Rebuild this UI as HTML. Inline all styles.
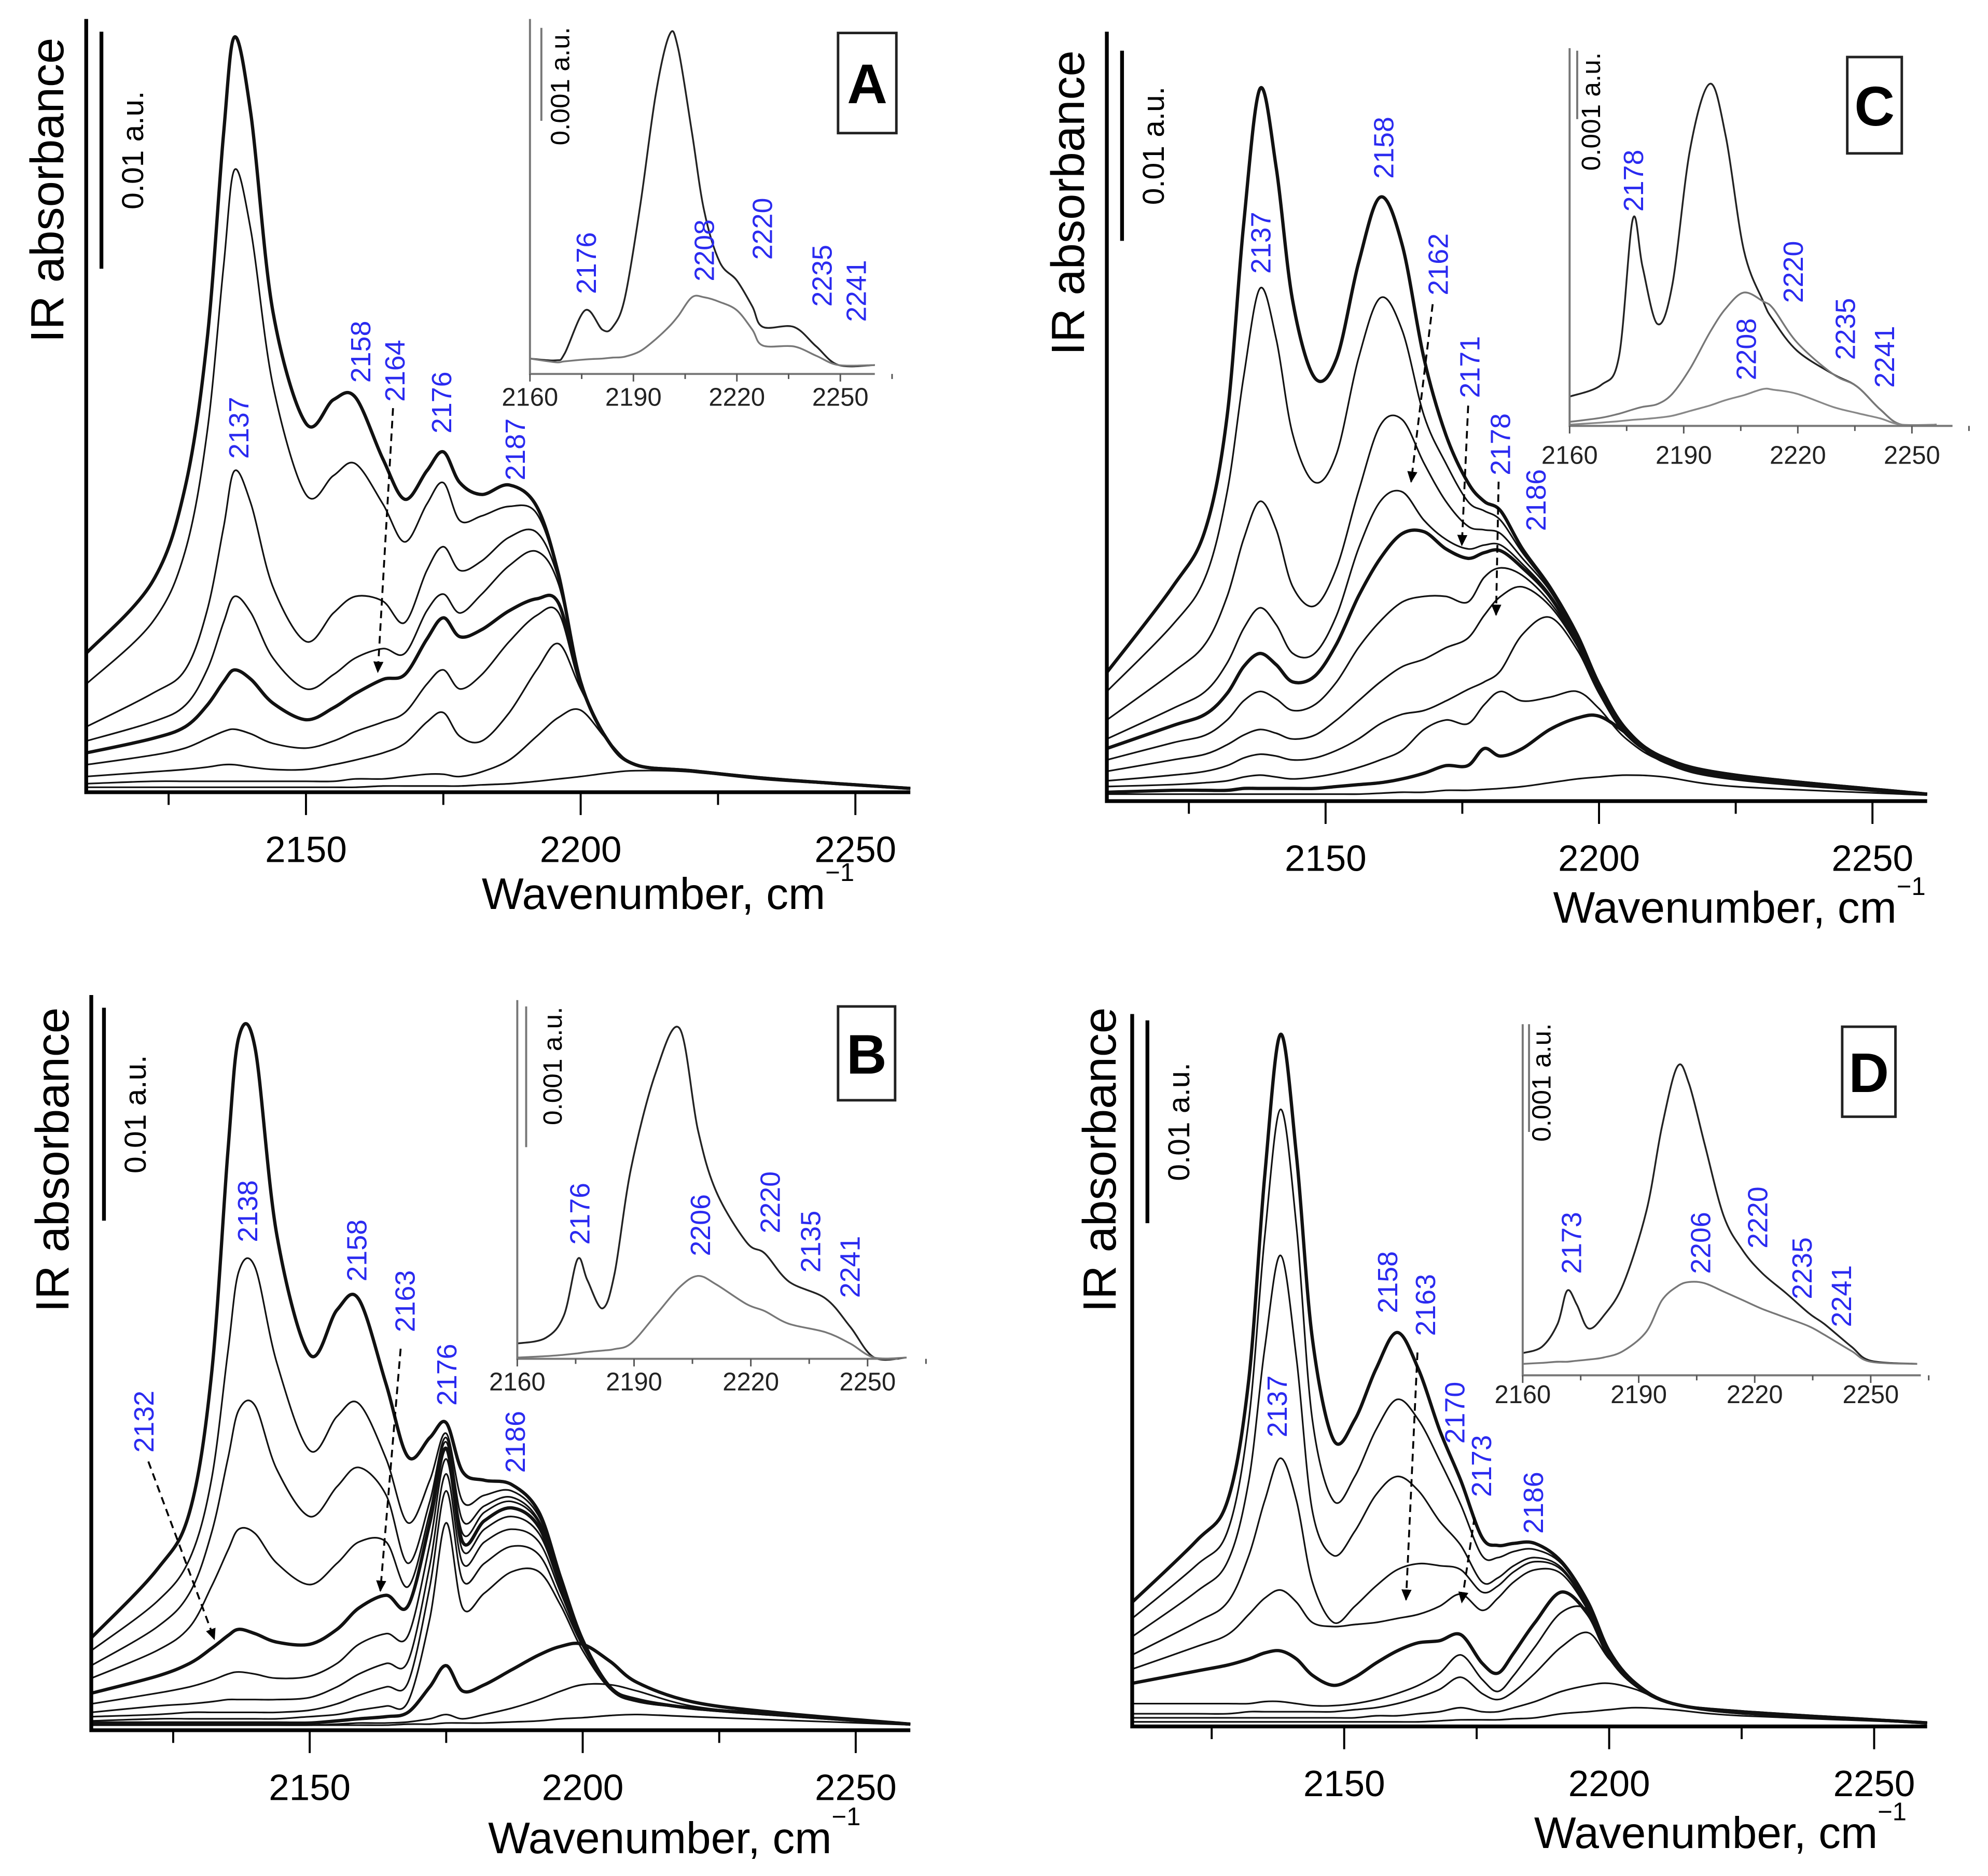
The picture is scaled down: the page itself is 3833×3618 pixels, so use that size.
<!DOCTYPE html>
<html><head><meta charset="utf-8">
<style>
html,body{margin:0;padding:0;background:#fff;}
svg{display:block;}
text{font-family:"Liberation Sans",Arial,sans-serif;}
</style></head>
<body>
<svg id="fig" width="3833" height="3618" viewBox="0 0 1568 1480" preserveAspectRatio="none" xmlns="http://www.w3.org/2000/svg">
<defs><marker id="ah" markerWidth="10" markerHeight="10" refX="8" refY="4" orient="auto" markerUnits="userSpaceOnUse"><path d="M0,0 L9,4 L0,8 Z" fill="#000"/></marker></defs>
</svg>
<script>
// ---------- main panel data (x: wavenumber cm-1, y: absorbance in 0.001 a.u.) ----------
const gridA = [2110,2122,2128,2132,2135,2137,2140,2144,2150,2155,2159,2164,2168,2172,2175,2178,2182,2187,2192,2196,2200,2205,2210,2220,2235,2260];
const curvesA = [
 [5.7,8.7,12.7,18.9,27.6,31.7,28.4,20.1,15.4,16.4,16.5,13.9,12.2,13.4,14.2,12.9,12.4,12.8,11.9,9,4.5,2,1.0,0.75,0.4,0],
 [4.4,7,10,15,22,26.1,23.5,17,12.4,13.2,13.7,12.0,10.4,12.0,12.9,11.3,11.5,11.9,11.6,8.9,4.5,2,1.0,0.75,0.4,0],
 [2.6,4,5,7.5,11,13.4,12,8.5,6.2,7.4,8.1,7.9,7.0,9.2,10.2,9.2,9.6,10.6,10.8,8.8,4.5,2,1.0,0.75,0.4,0],
 [2.0,2.8,3.5,5,7,8.1,7.4,5.5,4.2,4.8,5.5,5.9,5.7,7.5,8.2,7.4,8.2,9.4,10,8.6,4.5,2,1.0,0.75,0.4,0],
 [1.5,2.1,2.6,3.5,4.5,5,4.6,3.6,2.9,3.4,4.0,4.6,4.8,6.3,7.2,6.4,6.7,7.5,8,7.8,4.4,2,1.0,0.75,0.4,0],
 [1.0,1.4,1.7,2.1,2.4,2.5,2.3,1.9,1.7,2.0,2.4,2.8,3.2,4.4,5.0,4.2,4.8,6.2,7.3,7.4,4.3,2,1.0,0.75,0.4,0],
 [0.5,0.7,0.8,0.9,1.0,1.0,0.9,0.8,0.8,1.0,1.2,1.5,1.9,2.8,3.2,2.2,2.0,3.2,5,6.1,4.2,2,1.0,0.75,0.4,0],
 [0.2,0.3,0.3,0.3,0.3,0.3,0.3,0.3,0.3,0.3,0.4,0.4,0.5,0.6,0.6,0.5,0.7,1.2,2.2,3.0,3.3,2.0,1.0,0.7,0.4,0],
 [0.05,0.05,0.05,0.05,0.05,0.05,0.05,0.05,0.05,0.05,0.05,0.1,0.1,0.1,0.1,0.1,0.15,0.2,0.3,0.4,0.5,0.65,0.75,0.7,0.35,0]
];
const thickA = [0,4];
const gridB = [2110,2122,2128,2132,2135,2137,2140,2144,2150,2155,2159,2164,2168,2172,2175,2178,2182,2187,2192,2196,2200,2205,2210,2220,2235,2260];
const curvesB = [
 [4.1,7.3,10,16.4,26.9,32.3,31.8,23,17.4,19.5,20,16,12.6,13.5,14.2,11.9,11.5,11.3,10,6.9,4,1.8,1.2,0.8,0.5,0.05],
 [3.5,5.8,7.8,11.5,17.5,21.3,21.5,17,12.9,14.5,15.1,12.5,9.5,11.5,13.7,10.5,10.8,11.0,9.8,6.8,4,1.8,1.2,0.8,0.5,0.05],
 [2.8,4.6,6.2,9,12.5,14.8,15,12,9.8,11.2,12.1,10.8,7.6,10.5,13.5,9.6,10.3,10.7,9.6,6.7,4,1.8,1.2,0.8,0.5,0.05],
 [2.2,3.5,4.6,6.5,8.2,9.2,9.0,7.6,6.6,7.6,8.6,8.6,6.5,10,13.3,9,10,10.5,9.5,6.6,4,1.8,1.2,0.8,0.5,0.05],
 [1.5,2.3,2.9,3.6,4.2,4.5,4.3,3.9,3.8,4.5,5.5,6.1,5.6,9.5,13,8.6,9.6,10.2,9.3,6.5,3.9,1.8,1.2,0.8,0.5,0.05],
 [1.0,1.5,1.8,2.1,2.4,2.5,2.4,2.2,2.3,2.9,3.8,4.3,4.2,8.5,12.5,8.2,9.2,9.8,9.0,6.4,3.9,1.8,1.2,0.8,0.5,0.05],
 [0.6,0.9,1.0,1.1,1.2,1.2,1.2,1.2,1.3,1.8,2.4,2.9,3.0,7.5,11.8,7.6,8.6,9.2,8.6,6.2,3.8,1.7,1.2,0.8,0.5,0.05],
 [0.4,0.5,0.6,0.6,0.6,0.6,0.6,0.6,0.7,1.0,1.4,1.8,2.0,6.5,11,6.8,7.6,8.4,8.0,5.9,3.7,1.7,1.1,0.8,0.5,0.05],
 [0.2,0.3,0.3,0.3,0.3,0.3,0.3,0.3,0.4,0.5,0.7,0.9,1.1,5,9.5,5.5,6.2,7.2,7.2,5.6,3.5,1.7,1.1,0.8,0.5,0.05],
 [0.1,0.1,0.1,0.1,0.1,0.1,0.1,0.1,0.1,0.2,0.3,0.4,0.6,1.8,2.8,1.6,1.9,2.6,3.3,3.7,3.8,3.0,2.0,1.1,0.6,0.05],
 [0,0,0,0,0,0,0,0,0,0.05,0.1,0.1,0.15,0.3,0.5,0.3,0.5,0.8,1.2,1.6,1.9,1.9,1.6,0.9,0.5,0.05],
 [0,0,0,0,0,0,0,0,0,0,0,0,0.05,0.05,0.1,0.1,0.1,0.15,0.2,0.3,0.35,0.45,0.5,0.4,0.25,0.02]
];
const thickB = [0,4,9];
const gridC = [2110,2122,2128,2132,2135,2138,2141,2144,2148,2152,2156,2160,2164,2168,2172,2176,2179,2182,2186,2191,2196,2200,2205,2212,2225,2260];
const curvesC = [
 [6.5,11,14,20,30,37.2,33,26,22,23,28,31.5,29,23,19,16.5,15.5,15,13,11,8.5,5.9,3.5,2,1.1,0.1],
 [5.5,9,11.5,16,22,26.7,24,19,16.5,18,23,26.2,24.5,20,17.5,15.5,15,14.5,12.8,10.9,8.4,5.8,3.5,2,1.1,0.1],
 [4,6.5,8,10.5,13.5,15.5,14,11,10,12,16,19.5,19.8,17.5,15.5,14.2,14,13.8,12.5,10.8,8.3,5.8,3.5,2,1.1,0.1],
 [3,4.6,5.5,7,8.8,9.9,9,7.5,7.5,9.5,13,15.5,16,14.5,13.5,13,13.2,13.2,12.2,10.6,8.2,5.7,3.4,2,1.1,0.1],
 [2.5,3.7,4.3,5.4,6.8,7.5,6.9,6.0,6.3,8,10.5,12.5,13.8,13.9,13,12.5,12.8,12.9,12.0,10.5,8.1,5.6,3.4,2,1.1,0.1],
 [1.9,2.8,3.2,4.0,5.0,5.5,5.1,4.5,4.8,6,7.8,9.2,10.2,10.5,10.5,10.2,11.5,12.0,11.6,10.2,8.0,5.5,3.3,1.9,1.0,0.1],
 [1.3,1.9,2.2,2.7,3.2,3.5,3.3,3.0,3.2,4.0,5.0,6.0,6.8,7.2,7.8,8.3,9.5,10.5,11.0,10.0,7.9,5.5,3.3,1.9,1.0,0.1],
 [0.8,1.1,1.3,1.6,2.0,2.2,2.1,1.9,2.0,2.4,3.0,3.8,4.3,4.5,5.0,5.6,6.0,6.6,8.5,9.4,7.7,5.4,3.2,1.9,1.0,0.1],
 [0.5,0.6,0.7,0.8,1.0,1.1,1.0,0.9,1.0,1.2,1.5,1.9,2.4,3.5,4.0,3.8,4.8,5.5,5.0,5.2,5.5,4.6,3.0,1.8,1.0,0.1],
 [0.2,0.3,0.3,0.3,0.4,0.4,0.4,0.4,0.4,0.5,0.6,0.7,0.9,1.2,1.6,1.6,2.5,2.1,2.5,3.5,4.1,4.2,3.3,1.8,0.9,0.1],
 [0.1,0.1,0.1,0.1,0.1,0.1,0.1,0.1,0.1,0.1,0.1,0.15,0.2,0.2,0.3,0.3,0.35,0.4,0.5,0.7,0.9,1.0,1.1,1.0,0.5,0.05]
];
const thickC = [0,4,9];
const gridD = [2110,2122,2128,2132,2135,2138,2141,2144,2148,2152,2156,2160,2164,2168,2172,2176,2179,2182,2186,2191,2196,2200,2205,2212,2225,2260];
const curvesD = [
 [6.0,9,11,17,27,34,28,19,14,15,17.5,19.3,17.5,14.5,12,9.2,8.8,8.9,8.9,8.0,6.0,3.6,2.0,1.0,0.6,0.05],
 [5.2,7.8,9.5,15,24,30.3,24.5,15,11,12.2,14.5,16,15,13,10.8,8.3,8.2,8.5,8.6,7.9,5.9,3.6,2.0,1.0,0.6,0.05],
 [4.3,6.5,8,12,18.5,23.1,18,10.5,8.3,9.5,11.3,12.2,11.5,10.0,8.8,7.0,7.2,7.8,8.2,7.7,5.8,3.5,2.0,1.0,0.6,0.05],
 [3.4,5,6,8.3,11,13.1,11,7,5,5.8,6.8,7.6,7.9,7.8,7.6,6.5,6.8,7.5,8.0,7.6,5.7,3.5,2.0,1.0,0.6,0.05],
 [2.7,3.8,4.4,5.4,6.2,6.6,6.0,5.0,4.8,4.9,5.0,5.2,5.4,5.8,6.4,5.6,6.2,7.0,7.6,7.4,5.6,3.4,2.0,1.0,0.6,0.05],
 [2.0,2.6,2.9,3.2,3.5,3.6,3.2,2.4,1.9,2.3,3.0,3.6,4.0,4.1,4.4,3.0,2.5,3.5,5.0,6.5,5.4,3.3,1.9,1.0,0.6,0.05],
 [1.0,1.0,1.0,1.0,1.1,1.1,1.0,0.9,0.9,1.0,1.2,1.5,1.9,2.5,3.4,2.2,1.6,2.4,3.8,5.5,5.6,3.4,1.9,1.0,0.6,0.05],
 [0.5,0.5,0.5,0.6,0.6,0.6,0.6,0.6,0.6,0.7,0.8,1.0,1.3,1.7,2.3,1.5,1.2,1.6,2.5,3.8,4.5,3.2,1.9,1.0,0.5,0.05],
 [0.3,0.3,0.3,0.3,0.3,0.3,0.3,0.3,0.3,0.3,0.4,0.4,0.5,0.6,0.8,0.6,0.6,0.8,1.1,1.6,1.9,2.0,1.7,1.0,0.5,0.05],
 [0.1,0.1,0.1,0.1,0.1,0.1,0.1,0.1,0.1,0.1,0.1,0.1,0.1,0.15,0.2,0.2,0.2,0.25,0.3,0.5,0.6,0.7,0.8,0.7,0.4,0.05]
];
const thickD = [0,5];
const mainTicks = [2150,2200,2250];
const mainMinor = [2125,2175,2225];

// ---------- inset data (y in 0.0001 a.u.) ----------
const gridIA = [2160,2167.5,2170,2176,2181,2184,2187.5,2192,2196.5,2200.5,2203,2207,2210.5,2215,2220,2224.5,2227.5,2236.5,2243,2249.5,2260];
const insetA = [
 [0.7,0.5,1.2,5.9,3.8,4.1,7.2,17.2,29.2,35.6,34,25,16.6,11.1,9.1,6.3,4.1,4.1,2.0,0,0],
 [0.7,0.3,0.4,0.6,0.7,0.8,0.9,1.5,2.8,4.2,5.3,7.3,7.3,6.8,5.9,3.8,2.1,2.0,1.0,0,0]
];
const gridIB = [2160,2167.3,2172,2175.5,2178,2181.9,2185,2189.2,2195.5,2201.7,2206.4,2211.1,2218.9,2223.6,2229.8,2239.2,2245.5,2251.7,2260];
const insetB = [
 [1.0,1.4,3.0,7.0,5.5,3.5,6,13.4,20.2,23.4,16.2,11.8,8.2,7.4,5.4,4.2,2.2,0,0],
 [0,0.1,0.2,0.3,0.4,0.5,0.6,1.0,3.0,5.0,5.8,5.2,3.8,3.3,2.4,1.8,1.0,0,0]
];
const gridIC = [2160,2168.3,2173,2176.6,2179.2,2183.1,2187,2191.7,2196.9,2201.1,2205.8,2210.9,2213.6,2219.8,2229.2,2235.5,2241.7,2247.2,2256.5];
const insetC = [
 [4.1,5.8,10,30,23,14.7,20.4,40.3,49.8,42,25.5,18,15.2,10.8,7.4,5.6,2.2,0,0],
 [0.4,1.0,1.6,2.2,2.6,3.0,4.5,8.2,13.5,17,19.3,18,16.9,12,7.4,5.6,2.2,0,0],
 [0,0.3,0.5,0.7,0.8,1.0,1.3,2.0,2.8,3.6,4.3,5.2,5.1,4.5,2.6,1.7,0.9,0,0]
];
const gridID = [2160,2165,2169,2171.5,2174,2177,2181,2186,2192,2196,2200,2203,2207,2212,2217,2222,2228,2234,2238,2245,2250,2262];
const insetD = [
 [1.0,1.6,3.7,6.8,5.5,3.3,4.5,7.4,14.2,22,27.6,26,20.5,13.7,10.5,8.4,6.6,4.7,3.7,1.6,0.3,0],
 [0,0.1,0.2,0.2,0.3,0.4,0.6,1.2,3.0,5.9,7.2,7.6,7.5,6.7,5.9,5.1,4.3,3.5,2.7,1.2,0.2,0]
];
const insetTicks = [2160,2190,2220,2250];

const NS = "http://www.w3.org/2000/svg";
const svg = document.getElementById('fig');
function mk(tag, attrs, parent){const e=document.createElementNS(NS,tag);for(const k in attrs)e.setAttribute(k,attrs[k]);(parent||svg).appendChild(e);return e;}
function smooth(pts){
  let d="M"+pts[0][0].toFixed(1)+","+pts[0][1].toFixed(1);
  for(let i=0;i<pts.length-1;i++){
    const p0=pts[Math.max(0,i-1)],p1=pts[i],p2=pts[i+1],p3=pts[Math.min(pts.length-1,i+2)];
    const c1=[p1[0]+(p2[0]-p0[0])/6,p1[1]+(p2[1]-p0[1])/6];
    const c2=[p2[0]-(p3[0]-p1[0])/6,p2[1]-(p3[1]-p1[1])/6];
    d+=" C"+c1[0].toFixed(1)+","+c1[1].toFixed(1)+" "+c2[0].toFixed(1)+","+c2[1].toFixed(1)+" "+p2[0].toFixed(1)+","+p2[1].toFixed(1);
  }
  return d;
}
function txt(x,y,s,size,opts,parent){
  const t=mk('text',Object.assign({x:x,y:y,'font-size':size},opts||{}),parent);t.textContent=s;return t;
}
function rtxt(x,y,s,size,color,anchor,parent){
  const t=mk('text',{x:0,y:0,'font-size':size,fill:color||'#000','text-anchor':anchor||'start',transform:`translate(${x},${y}) rotate(-90)`},parent);
  t.textContent=s;return t;
}

function drawMain(cfg){
  const g=mk('g',{});
  
  
  const xs=w=>cfg.left+(w-cfg.w0)*(cfg.right-cfg.left)/(cfg.w1-cfg.w0);
  const ys=v=>cfg.base-v*cfg.ppu;
  cfg.curves.forEach((c,i)=>{
    const pts=cfg.grid.map((w,j)=>[xs(w),ys(c[j])]);
    const p=mk('path',{d:smooth(pts),fill:'none',stroke:'#111','stroke-width':cfg.thick.includes(i)?2.6:1.3,'stroke-linejoin':'round'},g);
    
    
  });
  const ax=mk('path',{d:`M${cfg.left},${cfg.top} L${cfg.left},${cfg.bottom} L${cfg.right},${cfg.bottom}`,fill:'none',stroke:'#000','stroke-width':3},g);
  
  
  mainTicks.forEach(t=>{
    mk('line',{x1:xs(t),x2:xs(t),y1:cfg.bottom,y2:cfg.bottom+18,stroke:'#000','stroke-width':1.6},g);
    const l=txt(xs(t),cfg.bottom+55,String(t),29,{'text-anchor':'middle'},g);
    
    
  });
  mainMinor.forEach(t=>mk('line',{x1:xs(t),x2:xs(t),y1:cfg.bottom,y2:cfg.bottom+10,stroke:'#000','stroke-width':1.6},g));
  const sb=mk('line',{x1:cfg.sbx,x2:cfg.sbx,y1:cfg.sbTop,y2:cfg.sbTop+10*cfg.ppu,stroke:'#000','stroke-width':3},g);
  
  
  const st=rtxt(cfg.sbx+33,cfg.sbTop+10*cfg.ppu*0.5,'0.01 a.u.',24,'#000','middle',g);
  
  
  const yt=rtxt(cfg.ytx,cfg.ytc,'IR absorbance',37,'#000','middle',g);
  
  
  const xt=mk('text',{x:cfg.xtx,y:cfg.xty,'font-size':35},g);
  
  
  xt.textContent='Wavenumber, cm';
  const sup=mk('tspan',{dy:-22,'font-size':20},xt);sup.textContent='\u22121';
  cfg.labels.forEach(L=>{
    const t=rtxt(L[1],L[2],L[0],22,'#2a2af0','start',g);
    
    
  });
  cfg.arrows.forEach(a=>{
    const l=mk('line',{x1:a[0],y1:a[1],x2:a[2],y2:a[3],stroke:'#000','stroke-width':1.5,'stroke-dasharray':'6,4','marker-end':'url(#ah)'},g);
    
    
  });
}

function drawInset(cfg){
  const g=mk('g',{});
  
  
  const xs=w=>cfg.x0+(w-cfg.w0)*cfg.ppw;
  const ys=v=>cfg.base-v*cfg.ppu;
  const cols=['#222','#777','#888'];
  cfg.curves.forEach((c,i)=>{
    const pts=cfg.grid.map((w,j)=>[xs(w),ys(c[j])]);
    const p=mk('path',{d:smooth(pts),fill:'none',stroke:cols[i],'stroke-width':1.4},g);
    
    
  });
  mk('path',{d:`M${cfg.left},${cfg.top} L${cfg.left},${cfg.bottom} L${cfg.right},${cfg.bottom}`,fill:'none',stroke:'#777','stroke-width':1.6},g);
  insetTicks.forEach(t=>{
    mk('line',{x1:xs(t),x2:xs(t),y1:cfg.bottom,y2:cfg.bottom+6,stroke:'#555','stroke-width':1.2},g);
    mk('line',{x1:xs(t+15),x2:xs(t+15),y1:cfg.bottom,y2:cfg.bottom+4,stroke:'#555','stroke-width':1.2},g);
    const l=txt(xs(t),cfg.bottom+cfg.tickOff,String(t),20,{'text-anchor':'middle',fill:'#222'},g);
    
    
  });
  mk('line',{x1:cfg.sbx,x2:cfg.sbx,y1:cfg.sbTop,y2:cfg.sbTop+10*cfg.ppu,stroke:'#777','stroke-width':1.6},g);
  const st=rtxt(cfg.stx,cfg.sty,'0.001 a.u.',21,'#000','middle',g);
  
  
  cfg.labels.forEach(L=>{
    const t=rtxt(L[1],L[2],L[0],22,'#2a2af0','start',g);
    
    
  });
  const b=mk('rect',{x:cfg.box[0],y:cfg.box[1],width:cfg.box[2],height:cfg.box[3],fill:'#fff',stroke:'#222','stroke-width':2},g);
  
  
  const bt=txt(cfg.box[0]+cfg.box[2]/2,cfg.box[1]+cfg.box[3]/2+16,cfg.id,44,{'text-anchor':'middle','font-weight':'bold'},g);
  
  
}

drawMain({id:'A',grid:gridA,curves:curvesA,thick:thickA,left:68,right:718,top:15,bottom:625,base:622,w0:2110,w1:2260,ppu:18.7,
  sbx:80,sbTop:25,ytx:50,ytc:150,xtx:380,xty:717,
  labels:[['2137',196,362],['2158',292,302],['2164',319,317],['2176',356,342],['2187',414,379]],
  arrows:[[310,322,298,530]]});
drawMain({id:'B',grid:gridB,curves:curvesB,thick:thickB,left:72,right:718,top:785,bottom:1365,base:1361,w0:2110,w1:2260,ppu:16.8,
  sbx:82,sbTop:795,ytx:54,ytc:915,xtx:385,xty:1462,
  labels:[['2132',121,1146],['2138',203,980],['2158',289,1011],['2163',327,1051],['2176',360,1109],['2186',414,1162]],
  arrows:[[117,1153,169,1293],[316,1064,300,1255]]});
drawMain({id:'C',grid:gridC,curves:curvesC,thick:thickC,left:873,right:1520,top:25,bottom:632,base:628,w0:2110,w1:2260,ppu:15,
  sbx:885,sbTop:40,ytx:855,ytc:160,xtx:1225,xty:728,
  labels:[['2137',1002,216],['2158',1099,141],['2162',1142,233],['2171',1167,314],['2178',1191,375],['2186',1219,419]],
  arrows:[[1130,240,1113,380],[1158,320,1153,430],[1182,380,1180,485]]});
drawMain({id:'D',grid:gridD,curves:curvesD,thick:thickD,left:893,right:1520,top:800,bottom:1362,base:1360,w0:2110,w1:2260,ppu:16,
  sbx:905,sbTop:805,ytx:880,ytc:915,xtx:1210,xty:1458,
  labels:[['2137',1015,1134],['2158',1102,1036],['2163',1132,1054],['2170',1155,1139],['2173',1176,1181],['2186',1217,1210]],
  arrows:[[1118,1067,1109,1262],[1163,1197,1153,1264]]});

drawInset({id:'A',grid:gridIA,curves:insetA,left:418,right:690,top:15,bottom:295,x0:418,w0:2160,ppw:2.72,base:288,ppu:7.33,
  sbx:427,sbTop:22,stx:449,sty:68,tickOff:25,box:[661,26,46,79],
  labels:[['2176',470,232],['2208',563,222],['2220',609,205],['2235',656,242],['2241',683,254]]});
drawInset({id:'B',grid:gridIB,curves:insetB,left:408,right:708,top:789,bottom:1072,x0:408,w0:2160,ppw:3.07,base:1071,ppu:11.1,
  sbx:415,sbTop:794,stx:443,sty:841,tickOff:25,box:[661,794,45,74],
  labels:[['2176',465,982],['2206',560,991],['2220',615,973],['2135',647,1004],['2241',678,1024]]});
drawInset({id:'C',grid:gridIC,curves:insetC,left:1238,right:1540,top:38,bottom:336,x0:1238,w0:2160,ppw:3.0,base:335,ppu:5.4,
  sbx:1244,sbTop:40,stx:1262,sty:88,tickOff:30,box:[1457,45,43,76],
  labels:[['2178',1296,167],['2208',1385,300],['2220',1422,239],['2235',1463,284],['2241',1494,306]]});
drawInset({id:'D',grid:gridID,curves:insetD,left:1201,right:1515,top:808,bottom:1085,x0:1201,w0:2160,ppw:3.05,base:1076,ppu:8.5,
  sbx:1206,sbTop:808,stx:1223,sty:854,tickOff:22,box:[1453,810,42,71],
  labels:[['2173',1247,1005],['2206',1349,1005],['2220',1394,985],['2235',1429,1025],['2241',1460,1047]]});
</script>
</body></html>
